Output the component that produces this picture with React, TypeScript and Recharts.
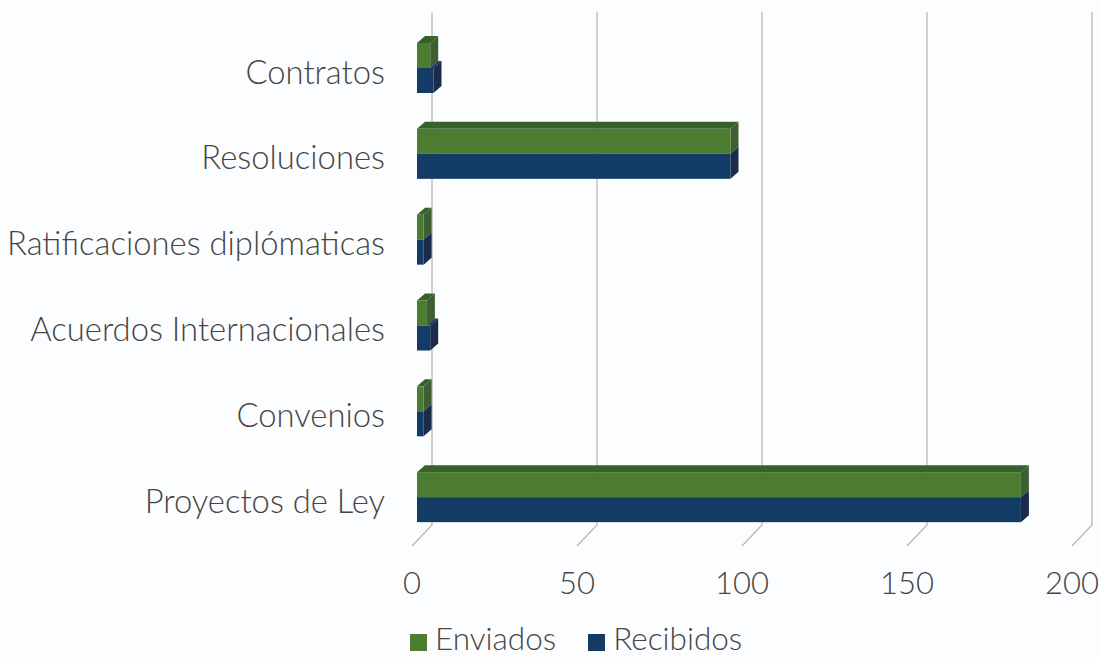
import { BarChart, Bar, XAxis, YAxis, CartesianGrid, Legend } from 'recharts'

const categories = [
  'Contratos',
  'Resoluciones',
  'Ratificaciones diplómaticas',
  'Acuerdos Internacionales',
  'Convenios',
  'Proyectos de Ley',
]
const enviados = [4, 95, 2, 3, 2, 183]
const recibidos = [5, 95, 2, 4, 2, 183]
const xTicks = [0, 50, 100, 150, 200]

const chartData = categories.map((name, i) => ({
  name,
  enviados: enviados[i],
  recibidos: recibidos[i],
}))

const FONT = 'Lato, sans-serif'
const TEXT = '#454545'
const DX = 8
const DY = 7

// front, top and side faces of one 3D bar
function Box3D(props: any) {
  const { x, y, width, height, front, top, side, hideTopUntil = 0 } = props
  const topStart = x + hideTopUntil
  return (
    <g>
      {topStart < x + width + 0.01 && (
        <polygon
          points={`${topStart},${y} ${topStart + DX},${y - DY} ${x + width + DX},${y - DY} ${x + width},${y}`}
          fill={top}
        />
      )}
      <polygon
        points={`${x + width},${y} ${x + width + DX},${y - DY} ${x + width + DX},${y + height - DY} ${x + width},${y + height}`}
        fill={side}
      />
      <rect x={x} y={y} width={width} height={height} fill={front} />
    </g>
  )
}

function EnviadosBar(props: any) {
  return <Box3D {...props} front="#4b7c2f" top="#38602a" side="#3d5f33" />
}

function RecibidosBar(props: any) {
  const { payload, width, value } = props
  const v = Array.isArray(value) ? value[1] - value[0] : value
  // green sits on top of the blue box, only the longer part shows its top
  const covered = v > 0 ? (width * Math.min(payload.enviados, v)) / v : 0
  return <Box3D {...props} front="#123b66" top="#16365c" side="#1c2b49" hideTopUntil={covered} />
}

// back wall line plus the diagonal down to the axis label
function WallLine(props: any) {
  const { x1 } = props
  return (
    <path
      d={`M${x1 + 15},12 L${x1 + 15},525 L${x1 - 5},546`}
      fill="none"
      stroke="#b5b5b5"
      strokeWidth={1.2}
    />
  )
}

function XTick({ x, y, payload }: any) {
  return (
    <text x={x - 5} y={y + 46} textAnchor="middle" fontFamily={FONT} fontWeight={300} fontSize={31} fill={TEXT}>
      {payload.value}
    </text>
  )
}

export default function App() {
  return (
    <div style={{ position: 'absolute', left: 0, top: 0, width: 1099, height: 658, background: '#fcfdfe', overflow: 'hidden' }}>
      <BarChart
        width={1099}
        height={658}
        data={chartData}
        layout="vertical"
        barSize={25}
        barGap={0}
        margin={{ top: 25, right: 22, bottom: 0, left: 0 }}
      >
        <CartesianGrid horizontal={false} vertical={WallLine as any} />
        <XAxis
          type="number"
          domain={[0, 200]}
          ticks={xTicks}
          interval={0}
          height={92}
          axisLine={false}
          tickLine={false}
          tick={XTick as any}
        />
        <YAxis
          type="category"
          dataKey="name"
          width={417}
          interval={0}
          axisLine={false}
          tickLine={false}
          tickSize={0}
          tickMargin={32}
          dy={4}
          tick={{ fontFamily: FONT, fontWeight: 300, fontSize: 32.8, fill: TEXT }}
        />
        <Bar dataKey="enviados" name="Enviados" fill="#4b7c2f" shape={EnviadosBar} isAnimationActive={false} />
        <Bar dataKey="recibidos" name="Recibidos" fill="#123b66" shape={RecibidosBar} isAnimationActive={false} />
        <Legend
          verticalAlign="bottom"
          align="left"
          iconType="square"
          iconSize={17}
          height={26}
          wrapperStyle={{ left: 410, bottom: 7, width: 500, lineHeight: '26px', fontFamily: FONT, fontWeight: 300, fontSize: 31.5, textAlign: 'left' }}
          formatter={(value: string) => (
            <span style={{ color: TEXT, marginLeft: 4, marginRight: 22 }}>{value}</span>
          )}
        />
      </BarChart>
    </div>
  )
}
